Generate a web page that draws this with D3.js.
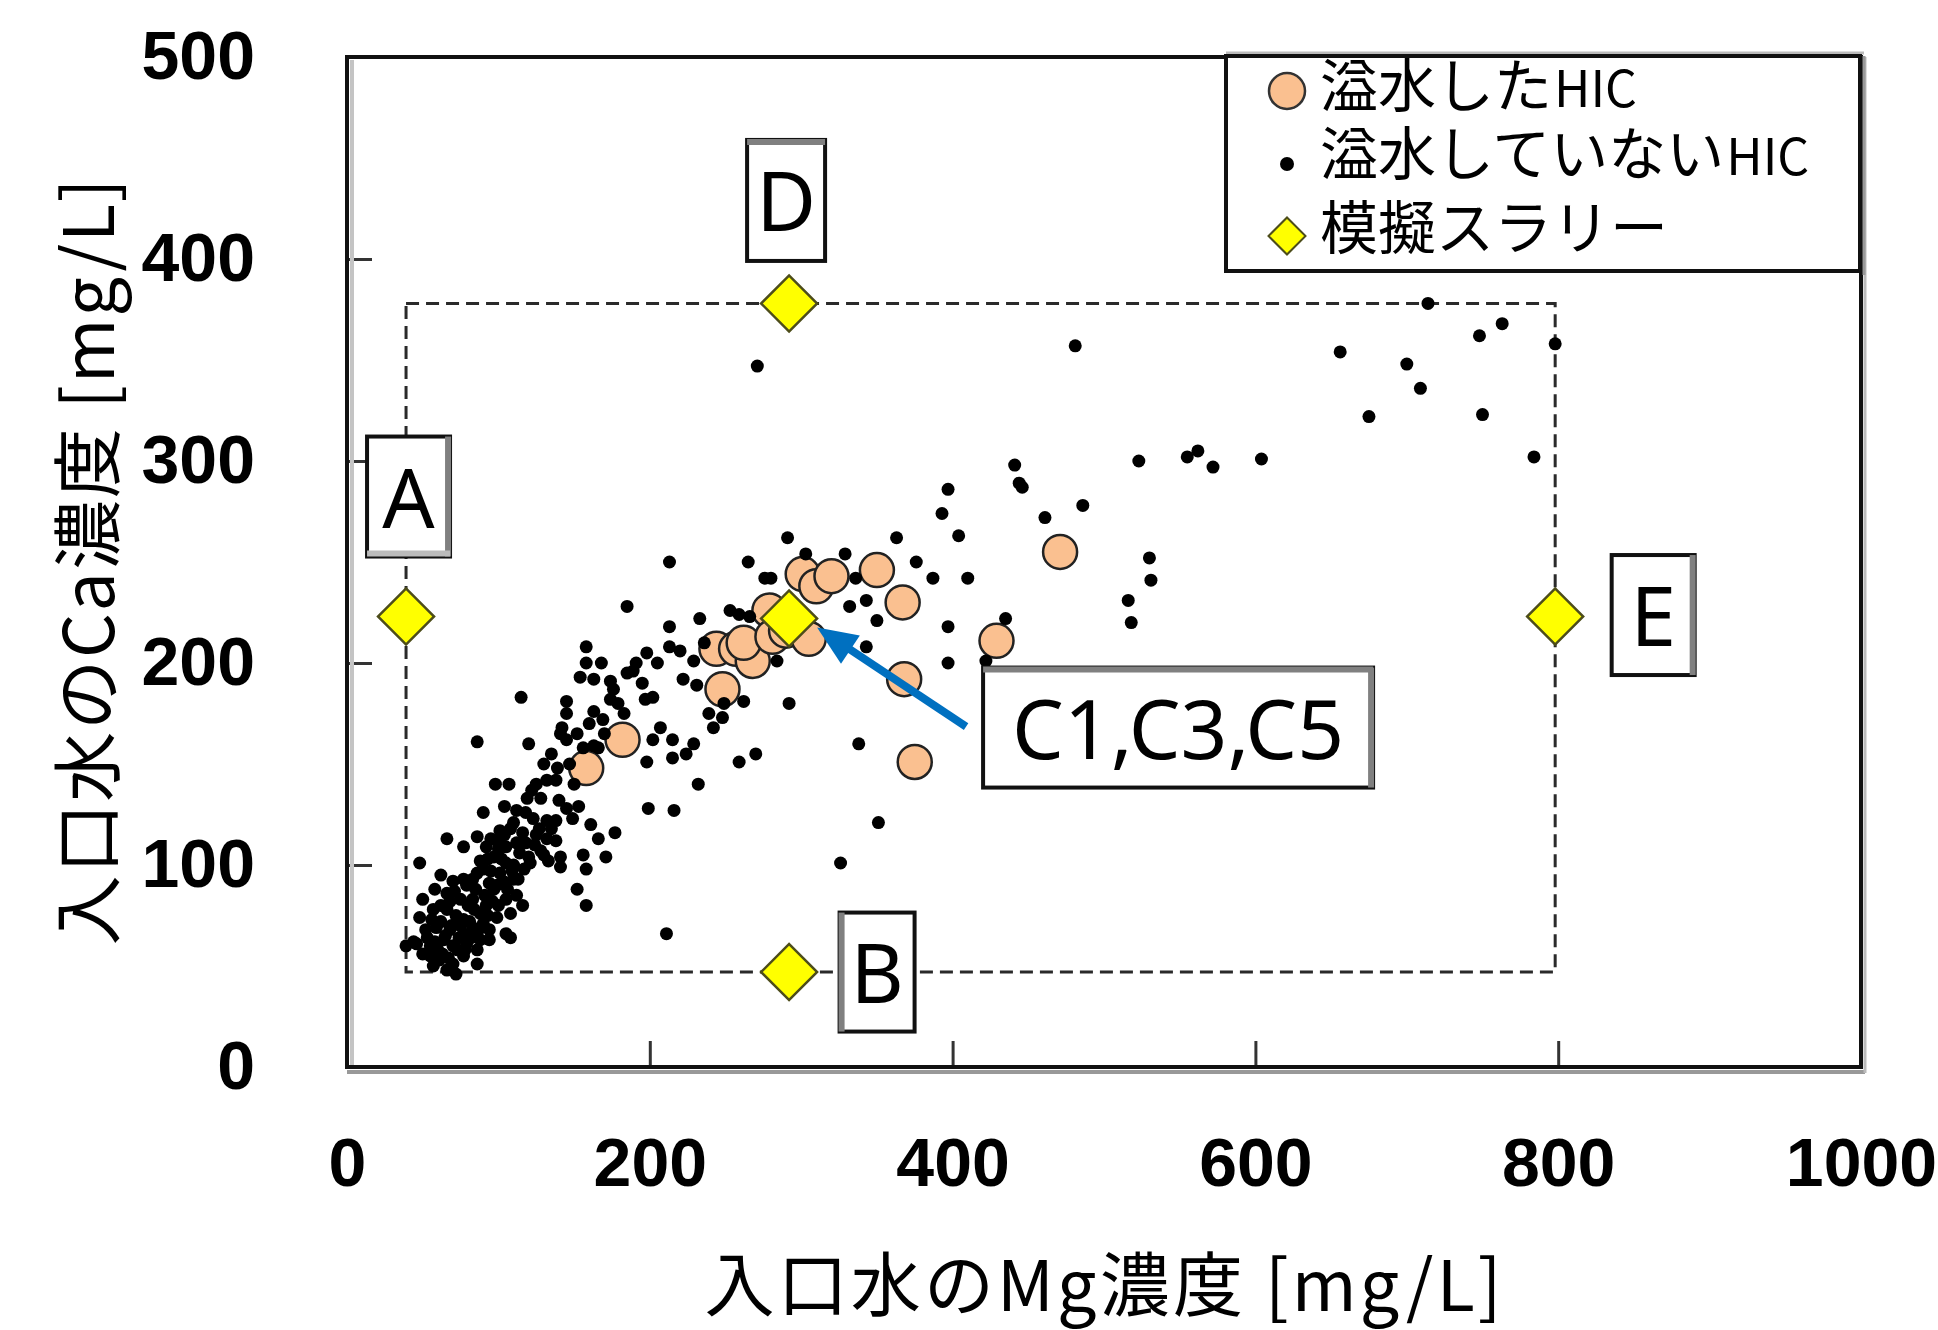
<!DOCTYPE html>
<meta charset="utf-8">
<style>
body { margin: 0; background: #fff; }
.tick text { font-family: "Liberation Sans", Arial, sans-serif; font-weight: bold; font-size: 68px; fill: #000; }
.jp { font-family: "Noto Sans CJK JP", sans-serif; fill: #000; }
.lbl { font-family: "Noto Sans", sans-serif; font-size: 82px; fill: #000; }
</style>
<body>
<script src="https://d3js.org/d3.v7.min.js"></script>
<script>

var width = 1938,
    height = 1330;

// [Mg, Ca] in mg/L
var floodedHIC = [
  [158,148],[182,162],[248,187],[244,207],[257,207],[268,201],[262,210],[279,226],[281,213],[290,216],
  [301,244],[310,238],[320,243],[305,212],[350,246],[367,230],[429,211],[368,192],[375,151],[471,255]
];

var otherHIC = [
  [271,347],[481,357],[656,354],[675,322],[714,378],[763,368],[748,362],[798,358],[700,348],[709,336],[750,323],[784,302],
  [604,301],[555,302],[562,305],[572,297],[523,300],[441,298],[444,289],[446,287],[397,286],[393,274],[404,263],[461,272],[486,278],[363,262],
  [530,252],[531,241],[516,231],[518,220],[376,250],[387,242],[410,242],[336,242],[397,218],[435,222],[397,200],[422,201],[351,121],
  [291,262],[213,250],[265,250],[303,254],[329,254],[276,242],[280,242],[185,228],[233,222],[213,218],[253,226],[259,224],[266,223],
  [332,228],[343,231],[350,221],[343,208],[158,208],[158,200],[168,200],[154,193],[163,192],[174,191],[176,187],[191,200],[189,196],
  [213,208],[220,206],[229,201],[222,192],[231,189],[236,210],[115,183],[145,181],[145,175],[142,168],[145,162],[141,165],[174,182],
  [163,176],[169,172],[183,175],[197,182],[202,183],[207,168],[202,162],[215,162],[229,160],[224,155],[215,153],[239,175],[242,168],
  [248,173],[249,180],[262,181],[292,180],[270,155],[259,151],[338,160],[232,140],[199,128],[216,127],[198,151],[163,159],[156,158],
  [166,158],[86,161],[120,160],[98,140],[107,140],[139,148],[132,142],[138,142],[122,137],[128,133],[140,132],[145,128],[153,129],
  [149,123],[104,129],[90,126],[123,123],[132,122],[138,122],[101,117],[110,121],[116,116],[161,120],[166,113],[177,116],[66,113],
  [77,109],[86,114],[92,109],[99,112],[105,109],[112,111],[132,113],[138,112],[88,102],[97,104],[105,101],[114,106],[121,101],[133,102],
  [141,104],[141,99],[156,105],[171,104],[158,98],[152,88],[158,80],[48,101],[77,93],[83,93],[90,98],[94,91],[101,96],[110,93],[113,93],
  [58,88],[66,86],[75,83],[83,83],[97,88],[105,83],[50,83],[57,78],[66,78],[77,73],[88,76],[99,74],[108,76],[48,74],[59,69],[68,68],
  [77,66],[83,69],[94,68],[105,66],[108,64],[116,80],[39,60],[46,61],[55,60],[64,63],[70,60],[79,61],[86,58],[94,63],[55,55],[61,53],
  [70,51],[77,55],[86,51],[57,50],[66,48],[72,46],[211,66],[326,101],[284,201],
  [62,72],[72,75],[80,80],[92,80],[85,88],[70,92],[62,95],[95,97],[102,103],[118,111],[125,115],[128,107],[65,65],[73,58],
  [82,64],[90,71],[100,80],[60,58],[52,68],[44,62],[75,70],[68,82],[88,63],[110,100],[95,113],[108,118],[118,126],
  [50,56],[53,64],[58,62],[63,56],[67,54],[69,70],[74,64],[78,58],[81,72],[84,78],[87,68],[91,85],[93,75],[96,82],[99,90],
  [103,92],[106,88],[109,97],[112,85],[117,98],[120,104],[124,110],[127,118],[130,105],[135,118],[62,80],[56,73],[71,87],
  [79,90],[86,96],[93,103],[100,108],[104,115],[112,127],[119,133],[125,140],[130,150],[135,155],[150,140],[147,150],
  [152,165],[160,170],[170,165],[179,180],[185,195],[195,190],[198,205],[205,200]
];

// simulated slurries A-E
var slurryNames = ["A", "B", "C", "D", "E"];
var slurry = [[39,223],[292,47],[292,222],[292,378],[798,223]];
var slurryLabels = ["A", "B", "C1,C3,C5", "D", "E"];

var xTicks = [0, 200, 400, 600, 800, 1000];
var yTicks = [0, 100, 200, 300, 400, 500];

var legendLabels = [["溢水した", "HIC"], ["溢水していない", "HIC"], ["模擬スラリー", ""]];

var x = d3.scaleLinear().domain([0, 1000]).range([347, 1861]);
var y = d3.scaleLinear().domain([0, 500]).range([1067, 57]);

var svg = d3.select("body").append("svg")
    .attr("width", width)
    .attr("height", height);

svg.append("rect").attr("width", width).attr("height", height).attr("fill", "#fff");

// axes, ticks pointing inward
var gx = svg.append("g")
    .attr("transform", "translate(0," + y(0) + ")")
    .call(d3.axisBottom(x).tickValues(xTicks).tickFormat(d3.format("d")).tickSize(-26).tickPadding(71));
var gy = svg.append("g")
    .attr("transform", "translate(" + x(0) + ",0)")
    .call(d3.axisLeft(y).tickValues(yTicks).tickFormat(d3.format("d")).tickSize(-25).tickPadding(92));
[gx, gy].forEach(function(g) {
  g.select(".domain").remove();
  g.selectAll(".tick line").attr("stroke", "#333").attr("stroke-width", 3);
  g.attr("font-family", null).attr("font-size", null);
});

// plot frame with a little shadow
var x0 = x(0), x1 = x(1000), y0 = y(0), y1 = y(500);
svg.append("line").attr("x1", x0 + 5).attr("x2", x0 + 5).attr("y1", y1 + 3).attr("y2", y0)
    .attr("stroke", "#c4c4c4").attr("stroke-width", 4);
svg.append("line").attr("x1", x0).attr("x2", x1 + 4).attr("y1", y0 + 5).attr("y2", y0 + 5)
    .attr("stroke", "#999").attr("stroke-width", 4);
svg.append("line").attr("x1", x1 + 4).attr("x2", x1 + 4).attr("y1", y1).attr("y2", y0 + 6)
    .attr("stroke", "#bbb").attr("stroke-width", 3);
svg.append("rect")
    .attr("x", x0).attr("y", y1)
    .attr("width", x1 - x0).attr("height", y0 - y1)
    .attr("fill", "none").attr("stroke", "#111").attr("stroke-width", 4);

// dashed envelope of the slurries
var mgExt = d3.extent(slurry, function(d) { return d[0]; });
var caExt = d3.extent(slurry, function(d) { return d[1]; });
svg.append("rect")
    .attr("x", x(mgExt[0])).attr("y", y(caExt[1]))
    .attr("width", x(mgExt[1]) - x(mgExt[0]))
    .attr("height", y(caExt[0]) - y(caExt[1]))
    .attr("fill", "none")
    .attr("stroke", "#2a2a2a")
    .attr("stroke-width", 3)
    .attr("stroke-dasharray", "13,7");

// series
svg.append("g").selectAll("circle")
    .data(floodedHIC)
    .enter().append("circle")
    .attr("cx", function(d) { return x(d[0]); })
    .attr("cy", function(d) { return y(d[1]); })
    .attr("r", 17)
    .attr("fill", "#FAC090")
    .attr("stroke", "#222")
    .attr("stroke-width", 2.5);

svg.append("g").selectAll("circle")
    .data(otherHIC)
    .enter().append("circle")
    .attr("cx", function(d) { return x(d[0]); })
    .attr("cy", function(d) { return y(d[1]); })
    .attr("r", 6.5)
    .attr("fill", "#000");

var diamond = function(half) { return d3.symbol().type(d3.symbolSquare).size(2 * half * half)(); };

svg.append("g").selectAll("path")
    .data(slurry)
    .enter().append("path")
    .attr("d", diamond(28))
    .attr("transform", function(d) { return "translate(" + x(d[0]) + "," + y(d[1]) + ") rotate(45)"; })
    .attr("fill", "#FFFF00")
    .attr("stroke", "#4d4d1a")
    .attr("stroke-width", 2.5);

// label boxes, placed relative to their slurry point
var boxes = {
  A: { dx: 2.5, dy: -120, w: 83, h: 120, shade: ["right", "bottom"] },
  B: { dx: 88, dy: 0, w: 75, h: 119, shade: ["left"] },
  C: { dx: 389, dy: 109, w: 390, h: 120, shade: ["top", "right"] },
  D: { dx: -3, dy: -103, w: 78, h: 121, shade: ["top"] },
  E: { dx: 98, dy: -1.5, w: 83, h: 120, shade: ["right"] }
};

var blue = "#0070C0";
var cpt = slurry[2];
var tail = [x(cpt[0]) + 177, y(cpt[1]) + 108],
    tip = [x(cpt[0]) + 28, y(cpt[1]) + 9];
var ang = Math.atan2(tip[1] - tail[1], tip[0] - tail[0]);
var hl = 40, hw = 17;
var base = [tip[0] - hl * Math.cos(ang), tip[1] - hl * Math.sin(ang)];
svg.append("line")
    .attr("x1", tail[0]).attr("y1", tail[1])
    .attr("x2", base[0] + 4 * Math.cos(ang)).attr("y2", base[1] + 4 * Math.sin(ang))
    .attr("stroke", blue).attr("stroke-width", 8);
svg.append("path")
    .attr("d", "M" + tip + "L" + [base[0] + hw * Math.sin(ang), base[1] - hw * Math.cos(ang)] +
               "L" + [base[0] - hw * Math.sin(ang), base[1] + hw * Math.cos(ang)] + "Z")
    .attr("fill", blue);

slurryNames.forEach(function(n, i) {
  var b = boxes[n];
  var cx = x(slurry[i][0]) + b.dx, cy = y(slurry[i][1]) + b.dy;
  var l = cx - b.w / 2, t = cy - b.h / 2, r = cx + b.w / 2, bt = cy + b.h / 2;
  var g = svg.append("g");
  g.append("rect").attr("x", l).attr("y", t).attr("width", b.w).attr("height", b.h)
      .attr("fill", "#fff").attr("stroke", "#111").attr("stroke-width", 4);
  var sides = { top: [l, t + 2, r, t + 2], right: [r - 2, t, r - 2, bt], bottom: [l, bt - 3, r, bt - 3], left: [l + 2, t, l + 2, bt] };
  b.shade.forEach(function(s) {
    var c = sides[s];
    g.append("line").attr("x1", c[0]).attr("y1", c[1]).attr("x2", c[2]).attr("y2", c[3])
        .attr("stroke", s === "bottom" ? "#bbb" : "#808080").attr("stroke-width", 6);
  });
  g.append("text").attr("class", "lbl")
      .attr("x", cx).attr("y", cy + 31)
      .attr("text-anchor", "middle")
      .text(slurryLabels[i]);
});

// legend
var lg = svg.append("g");
lg.append("line").attr("x1", 1226).attr("x2", 1864).attr("y1", 53).attr("y2", 53).attr("stroke", "#bbb").attr("stroke-width", 3);
lg.append("rect").attr("x", 1226).attr("y", 56).attr("width", 634).attr("height", 215)
    .attr("fill", "#fff").attr("stroke", "#111").attr("stroke-width", 4);
lg.append("line").attr("x1", 1864).attr("x2", 1864).attr("y1", 56).attr("y2", 275).attr("stroke", "#999").attr("stroke-width", 3);

var rowY = [87, 155, 229], markY = [91, 164, 236], mx = 1287;
lg.append("circle").attr("cx", mx).attr("cy", markY[0]).attr("r", 18)
    .attr("fill", "#FAC090").attr("stroke", "#333").attr("stroke-width", 2.5);
lg.append("circle").attr("cx", mx).attr("cy", markY[1]).attr("r", 7).attr("fill", "#000");
lg.append("path").attr("d", diamond(18.5))
    .attr("transform", "translate(" + mx + "," + markY[2] + ") rotate(45)")
    .attr("fill", "#FFFF00").attr("stroke", "#4d4d1a").attr("stroke-width", 2);

legendLabels.forEach(function(lab, i) {
  var t = lg.append("text").attr("class", "jp")
      .attr("x", 1320).attr("y", rowY[i] + 20)
      .attr("font-size", 58);
  t.append("tspan").text(lab[0]);
  if (lab[1]) t.append("tspan").attr("font-size", 50).attr("dx", 2).text(lab[1]);
});

// axis titles
svg.append("text").attr("class", "jp")
    .attr("x", 1103).attr("y", 1280)
    .attr("text-anchor", "middle").attr("dominant-baseline", "central")
    .attr("font-size", 70)
    .attr("textLength", 797).attr("lengthAdjust", "spacing")
    .text("入口水のMg濃度 [mg/L]");

svg.append("text").attr("class", "jp")
    .attr("transform", "translate(83,562) rotate(-90)")
    .attr("text-anchor", "middle").attr("dominant-baseline", "central")
    .attr("font-size", 70)
    .attr("textLength", 767).attr("lengthAdjust", "spacing")
    .text("入口水のCa濃度 [mg/L]");

</script>
